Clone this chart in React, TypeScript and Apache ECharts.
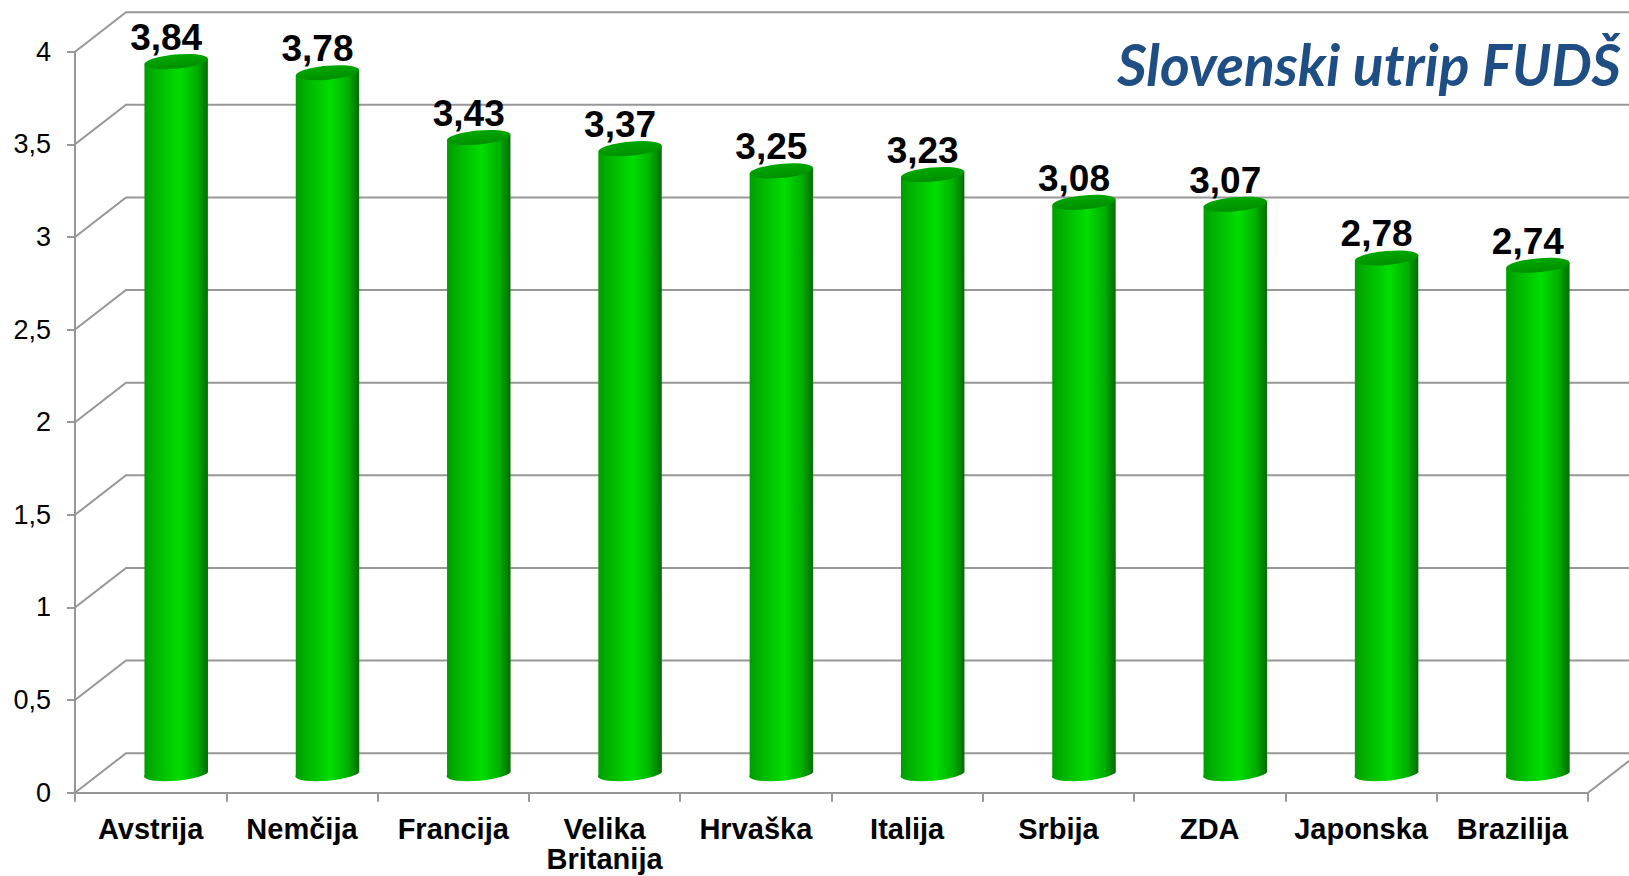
import React, { useEffect, useRef } from "react";
import * as echarts from "echarts";

const categories = ["Avstrija", "Nemčija", "Francija", "Velika\nBritanija", "Hrvaška", "Italija", "Srbija", "ZDA", "Japonska", "Brazilija"];
const values = [3.84, 3.78, 3.43, 3.37, 3.25, 3.23, 3.08, 3.07, 2.78, 2.74];
const gridValues = [0, 0.5, 1, 1.5, 2, 2.5, 3, 3.5, 4];
const chartTitle = "Slovenski utrip FUDŠ";

const DX = 51;
const DY = -39.5;
const GRID = "#979797";
const FONT = '"Liberation Sans", Arial, sans-serif';

function renderWall(params: any, api: any) {
  const v = api.value(1);
  const p = api.coord([0, v]);
  const band = api.size([1, 0])[0];
  const x0 = p[0] - band / 2;
  const y = p[1];
  const xEnd = x0 + band * categories.length;
  const children: any[] = [
    {
      type: "polyline",
      shape: { points: [[x0, y], [x0 + DX, y + DY], [xEnd + DX, y + DY]] },
      style: { stroke: GRID, lineWidth: 2, fill: "none" },
    },
  ];
  if (v === 0) {
    children.push({
      type: "line",
      shape: { x1: xEnd, y1: y, x2: xEnd + DX, y2: y + DY },
      style: { stroke: GRID, lineWidth: 2 },
    });
  }
  return { type: "group", children };
}

function ellipseEnds(cx: number, cy: number) {
  const lift = 2.9;
  return { lx: cx - 31.7, ly: cy + lift, rx_: cx + 31.7, ry_: cy - lift };
}

function renderCylinder(params: any, api: any) {
  const idx = api.value(0);
  const v = api.value(1);
  const top = api.coord([idx, v]);
  const base = api.coord([idx, 0]);
  const cx = top[0] + DX / 2;
  const topY = top[1] + DY / 2;
  const botY = base[1] + DY / 2 - 0.8;
  const t = ellipseEnds(cx, topY);
  const b = ellipseEnds(cx, botY);
  const bodyPath = `M ${t.lx} ${t.ly} L ${b.lx} ${b.ly} A 31.83 7 -5.2 0 0 ${b.rx_} ${b.ry_} L ${t.rx_} ${t.ry_} Z`;
  const bodyFill = new echarts.graphic.LinearGradient(0, 0, 1, 0, [
    { offset: 0, color: "#009c00" },
    { offset: 0.18, color: "#00b400" },
    { offset: 0.55, color: "#00de00" },
    { offset: 0.82, color: "#00b000" },
    { offset: 1, color: "#006c00" },
  ]);
  const topFill = new echarts.graphic.LinearGradient(0, 0, 0, 1, [
    { offset: 0, color: "#00a800" },
    { offset: 1, color: "#009000" },
  ]);
  return {
    type: "group",
    children: [
      { type: "path", shape: { pathData: bodyPath }, style: { fill: bodyFill } },
      {
        type: "ellipse",
        x: cx,
        y: topY,
        rotation: 0.0908,
        shape: { cx: 0, cy: 0, rx: 31.83, ry: 7 },
        style: { fill: topFill },
      },
      {
        type: "text",
        x: cx - 10,
        y: topY - 24,
        style: {
          text: v.toFixed(2).replace(".", ","),
          fill: "#000",
          font: `bold 37px ${FONT}`,
          align: "center",
          verticalAlign: "middle",
        },
      },
    ],
  };
}

export default function App() {
  const ref = useRef<HTMLDivElement>(null);
  useEffect(() => {
    document.body.style.margin = "0";
    const chart = echarts.init(ref.current!, null, { renderer: "svg" });
    chart.setOption({
      animation: false,
      backgroundColor: "#ffffff",
      grid: { left: 75, right: 41, top: 51.7, bottom: 83.3, containLabel: false, outerBoundsMode: "none" },
      xAxis: {
        type: "category",
        data: categories,
        axisLine: { lineStyle: { color: GRID, width: 2 } },
        axisTick: { show: true, length: 9, lineStyle: { color: GRID, width: 2 } },
        axisLabel: { interval: 0, color: "#000", fontFamily: FONT, fontWeight: "bold", fontSize: 29, lineHeight: 30, margin: 21 },
      },
      yAxis: {
        type: "value",
        min: 0,
        max: 4,
        interval: 0.5,
        splitLine: { show: false },
        axisLine: { show: true, lineStyle: { color: GRID, width: 2 } },
        axisTick: { show: true, length: 8, lineStyle: { color: GRID, width: 2 } },
        axisLabel: {
          color: "#000",
          fontFamily: FONT,
          fontSize: 27,
          margin: 24,
          formatter: (v: number) => String(v).replace(".", ","),
        },
      },
      graphic: [
        {
          type: "text",
          right: 8,
          top: 35,
          style: { text: chartTitle, fill: "#1f4e84", font: `italic bold 57px Lato, "Open Sans", sans-serif` },
        },
      ],
      series: [
        {
          type: "custom",
          z: 1,
          silent: true,
          renderItem: renderWall,
          data: gridValues.map((v) => [0, v]),
        },
        {
          type: "custom",
          z: 2,
          silent: true,
          renderItem: renderCylinder,
          data: values.map((v, i) => [i, v]),
        },
      ],
    });
    return () => chart.dispose();
  }, []);
  return <div ref={ref} style={{ width: 1629, height: 876 }} />;
}
